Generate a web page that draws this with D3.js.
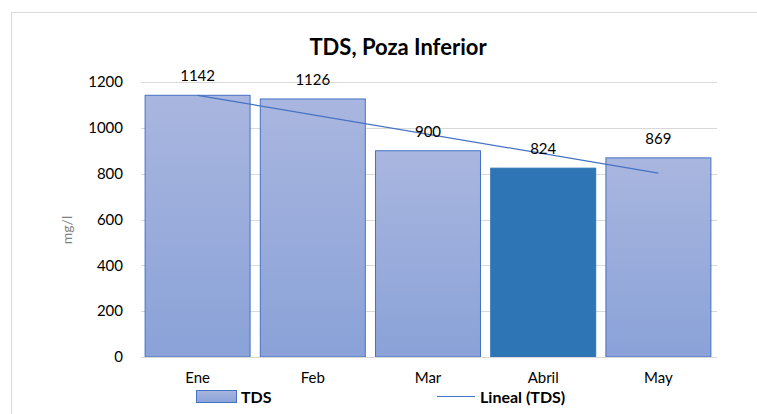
<!DOCTYPE html>
<html><head><meta charset="utf-8">
<script src="https://cdn.jsdelivr.net/npm/d3@7"></script>
<style>body{margin:0;background:#fff}svg{display:block;font-family:Lato,"Open Sans",sans-serif}</style>
</head><body><svg id="c" width="757" height="414"></svg>
<script>
const categories = ["Ene","Feb","Mar","Abril","May"];
const values = [1142,1126,900,824,869];
const yTicks = [0,200,400,600,800,1000,1200];
const title = "TDS, Poza Inferior";
const seriesName = "TDS";
const trendName = "Lineal (TDS)";
const yTitle = "mg/l";
const highlight = "Abril";

const svg = d3.select("#c");
// chart border
svg.append("rect").attr("x",11.5).attr("y",12.5).attr("width",800).attr("height",450)
  .attr("fill","none").attr("stroke","#d9d9d9");

const x = d3.scaleBand().domain(categories).range([140,716]).paddingInner(0.08).paddingOuter(0.04);
const y = d3.scaleLinear().domain([0,1200]).range([357,82]);

const defs = svg.append("defs");
const g = defs.append("linearGradient").attr("id","bg").attr("x1",0).attr("y1",0).attr("x2",0).attr("y2",1);
g.append("stop").attr("offset","0%").attr("stop-color","#a9b6df");
g.append("stop").attr("offset","100%").attr("stop-color","#8aa2d8");

// gridlines
svg.append("g").selectAll("line").data(yTicks.filter(d=>d>0)).join("line")
  .attr("x1",141).attr("x2",717).attr("y1",d=>Math.round(y(d))+0.5).attr("y2",d=>Math.round(y(d))+0.5)
  .attr("stroke","#d9d9d9").attr("stroke-width",1);

// y axis labels
const yAxis = d3.axisLeft(y).tickValues(yTicks).tickFormat(d3.format("d")).tickSize(0).tickPadding(0);
const ya = svg.append("g").attr("transform","translate(123,0)").call(yAxis);
ya.select(".domain").remove();
ya.selectAll("text").attr("font-size",15).attr("fill","#000").attr("font-family","Lato,'Open Sans',sans-serif");

// bars
svg.append("g").selectAll("rect").data(categories).join("rect")
  .attr("x",d=>x(d)+0.5).attr("width",x.bandwidth()-1)
  .attr("y",(d,i)=>y(values[i])).attr("height",(d,i)=>y(0)-y(values[i]))
  .attr("fill",d=>d===highlight?"#2e75b6":"url(#bg)")
  .attr("stroke",d=>d===highlight?"#2e75b6":"#4472c4").attr("stroke-width",1);

// zero line
svg.append("line").attr("x1",141).attr("x2",717).attr("y1",y(0)+0.5).attr("y2",y(0)+0.5).attr("stroke","#d9d9d9");

// x axis labels
const xAxis = d3.axisBottom(x).tickSize(0).tickPadding(0);
const xa = svg.append("g").attr("transform","translate(0,372)").call(xAxis);
xa.select(".domain").remove();
xa.selectAll("text").attr("font-size",15).attr("fill","#000").attr("font-family","Lato,'Open Sans',sans-serif");

// trendline (linear regression)
const n = values.length, xs = values.map((_,i)=>i+1);
const mx = d3.mean(xs), my = d3.mean(values);
const slope = d3.sum(xs.map((xi,i)=>(xi-mx)*(values[i]-my))) / d3.sum(xs.map(xi=>(xi-mx)**2));
const icpt = my - slope*mx;
const trend = xs.map((xi,i)=>[x(categories[i])+x.bandwidth()/2, y(icpt+slope*xi)]);
svg.append("path").attr("d",d3.line()([trend[0],trend[n-1]])).attr("stroke","#4472c4").attr("stroke-width",1.2).attr("fill","none");

// data labels
svg.append("g").selectAll("text").data(categories).join("text")
  .attr("x",d=>x(d)+x.bandwidth()/2).attr("y",(d,i)=>y(values[i])-14)
  .attr("text-anchor","middle").attr("font-size",15).attr("fill","#000").text((d,i)=>values[i]);

// title
svg.append("text").attr("x",398).attr("y",55).attr("text-anchor","middle")
  .attr("font-size",22).attr("font-weight","bold").attr("fill","#000").text(title);

// y title
svg.append("text").attr("transform","translate(72,230) rotate(-90)").attr("text-anchor","middle")
  .attr("font-size",14).attr("fill","#7f7f7f").text(yTitle);

// legend
svg.append("rect").attr("x",196.5).attr("y",390.5).attr("width",40).attr("height",12)
  .attr("fill","url(#bg)").attr("stroke","#4472c4");
svg.append("text").attr("x",241).attr("y",403).attr("font-size",16).attr("font-weight","bold").text(seriesName);
svg.append("line").attr("x1",437).attr("x2",475).attr("y1",396.5).attr("y2",396.5).attr("stroke","#4472c4").attr("stroke-width",1.2);
svg.append("text").attr("x",480).attr("y",403).attr("font-size",16).attr("font-weight","bold").text(trendName);
</script></body></html>
